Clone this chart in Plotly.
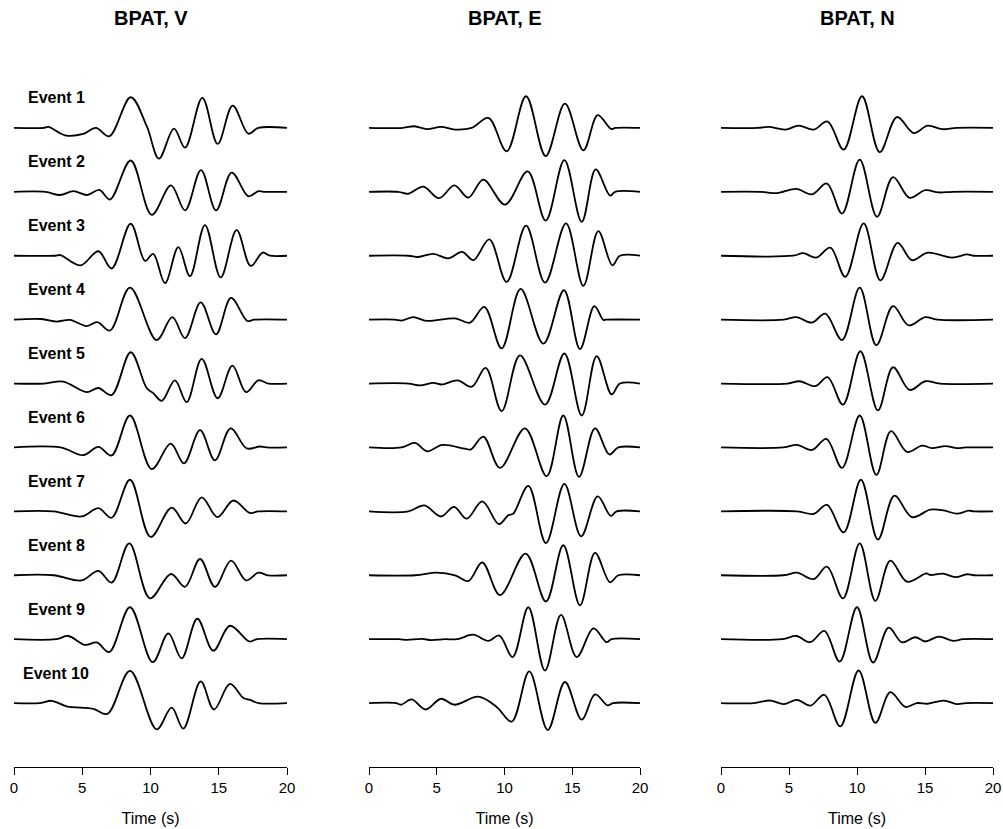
import plotly.graph_objects as go

# Station BPAT, three components, ten events.
# Each trace is given by its turning points: times (s) and amplitudes
# (in units of the vertical spacing between traces).
COMPONENTS = ["V", "E", "N"]
EVENTS = ["Event %d" % i for i in range(1, 11)]
X_TICKS = [0, 5, 10, 15, 20]

V_T = [
    [0, 2.15, 2.52, 3.74, 5.08, 6.0, 6.98, 8.55, 9.72, 10.62, 11.72, 12.53, 13.80, 14.92, 16.02, 17.17, 17.9, 20],
    [0, 2.3, 3.37, 4.35, 5.37, 6.25, 7.03, 8.55, 10.09, 11.5, 12.53, 13.70, 14.80, 15.95, 17.17, 17.9, 18.3, 20],
    [0, 3.0, 3.4, 4.88, 6.18, 7.15, 8.55, 9.6, 10.2, 11.06, 12.04, 12.89, 13.99, 15.14, 16.31, 17.34, 18.22, 18.75, 20],
    [0, 2.0, 3.12, 4.1, 5.32, 6.1, 7.03, 8.5, 10.45, 11.6, 12.53, 13.68, 14.80, 15.9, 17.09, 17.6, 20],
    [0, 2.2, 3.6, 5.32, 6.18, 7.15, 8.55, 9.72, 10.2, 10.82, 11.79, 12.65, 13.75, 14.92, 16.0, 17.0, 17.9, 18.63, 20],
    [0, 3.4, 5.08, 6.18, 7.15, 8.5, 10.09, 11.48, 12.45, 13.63, 14.72, 15.87, 17.05, 18.0, 18.5, 20],
    [0, 2.9, 4.96, 6.18, 7.15, 8.5, 10.01, 11.55, 12.58, 13.75, 14.9, 16.07, 17.29, 17.9, 20],
    [0, 2.9, 4.96, 6.18, 7.15, 8.45, 9.96, 11.5, 12.53, 13.63, 14.72, 15.9, 17.0, 17.9, 18.6, 20],
    [0, 3.1, 3.98, 5.2, 6.06, 6.98, 8.5, 10.16, 11.31, 12.28, 13.43, 14.6, 15.82, 17.24, 17.8, 20],
    [0, 1.9, 2.76, 3.86, 5.81, 6.84, 8.5, 10.45, 11.55, 12.4, 13.68, 14.65, 15.82, 16.8, 17.3, 17.9, 20],
]
V_A = [
    [0, 0, 0.016, -0.115, -0.094, 0.0, -0.13, 0.48, 0.03, -0.48, -0.01, -0.31, 0.47, -0.25, 0.35, -0.09, 0, 0],
    [0, 0, -0.05, 0.01, -0.05, 0.03, -0.12, 0.49, -0.36, 0.10, -0.29, 0.34, -0.29, 0.30, -0.07, 0.01, 0, 0],
    [0, 0, 0.01, -0.15, 0.07, -0.20, 0.50, -0.08, 0.03, -0.43, 0.135, -0.32, 0.48, -0.34, 0.40, -0.16, 0.05, 0, 0],
    [0, 0.01, -0.03, -0.005, -0.10, -0.04, -0.17, 0.50, -0.32, 0.04, -0.29, 0.27, -0.23, 0.34, -0.02, 0, 0],
    [0, 0, 0.03, -0.135, -0.07, -0.18, 0.49, -0.07, -0.15, -0.27, 0.05, -0.29, 0.385, -0.23, 0.28, -0.135, 0.05, 0, 0],
    [0, 0, -0.12, 0.01, -0.125, 0.50, -0.34, 0.06, -0.25, 0.27, -0.20, 0.30, -0.015, 0.015, 0, 0],
    [0, 0, -0.08, 0.05, -0.10, 0.495, -0.40, 0.06, -0.19, 0.22, -0.09, 0.17, -0.026, 0, 0],
    [0, 0, -0.08, 0.07, -0.115, 0.50, -0.36, 0.02, -0.18, 0.255, -0.18, 0.23, -0.08, 0.04, 0, 0],
    [0, 0, 0.05, -0.09, -0.05, -0.20, 0.50, -0.36, 0.09, -0.30, 0.32, -0.18, 0.21, -0.036, 0, 0],
    [0, 0, 0.036, -0.05, -0.09, -0.17, 0.505, -0.41, -0.07, -0.40, 0.34, -0.10, 0.30, 0.08, 0.05, 0, 0],
]

E_T = [
    [0, 2.5, 3.35, 4.26, 5.31, 6.35, 7.58, 8.81, 10.16, 11.59, 13.04, 14.46, 15.82, 16.88, 17.86, 18.2, 20],
    [0, 2.16, 2.9, 4.01, 5.17, 6.3, 7.33, 8.44, 10.04, 11.71, 13.04, 14.42, 15.70, 16.73, 17.79, 18.16, 20],
    [0, 2.9, 3.64, 4.75, 5.85, 6.89, 7.7, 8.88, 10.16, 11.59, 12.99, 14.54, 15.82, 16.92, 17.96, 18.52, 20],
    [0, 1.9, 2.4, 3.27, 4.26, 6.35, 7.45, 8.51, 9.79, 11.19, 12.87, 14.39, 15.57, 16.63, 17.29, 17.5, 20],
    [0, 2.9, 3.76, 4.75, 5.36, 6.54, 7.58, 8.61, 9.79, 11.14, 12.99, 14.42, 15.7, 16.8, 17.91, 18.52, 20],
    [0, 2.4, 3.39, 4.3, 5.41, 7.08, 7.53, 8.44, 9.67, 11.51, 13.11, 14.34, 15.5, 16.68, 17.74, 18.4, 20],
    [0, 2.9, 4.08, 5.31, 6.27, 7.21, 8.36, 9.59, 10.28, 10.65, 11.76, 13.06, 14.42, 15.65, 16.88, 17.84, 18.28, 20],
    [0, 3.4, 4.99, 6.35, 7.33, 8.36, 9.67, 11.56, 13.06, 14.34, 15.57, 16.68, 17.79, 18.4, 20],
    [0, 2.2, 2.8, 3.9, 4.6, 5.6, 6.5, 7.7, 8.81, 9.62, 10.6, 11.76, 12.99, 14.17, 15.33, 16.56, 17.54, 17.9, 20],
    [0, 2.0, 2.36, 3.15, 4.18, 5.31, 6.3, 8.07, 9.42, 10.53, 11.83, 13.19, 14.46, 15.7, 16.68, 17.61, 18.0, 20],
]
E_A = [
    [0, 0, 0.026, -0.02, 0.016, -0.026, 0, 0.156, -0.365, 0.495, -0.44, 0.38, -0.35, 0.20, -0.016, 0, 0],
    [0, 0, -0.03, 0.08, -0.10, 0.10, -0.09, 0.19, -0.20, 0.32, -0.45, 0.495, -0.47, 0.35, -0.06, 0, 0],
    [0, 0, -0.02, 0.03, -0.04, 0.06, -0.07, 0.255, -0.41, 0.47, -0.42, 0.505, -0.47, 0.385, -0.15, 0, 0],
    [0, 0, -0.015, 0.04, -0.02, 0.02, -0.047, 0.20, -0.45, 0.48, -0.375, 0.46, -0.46, 0.21, -0.005, 0, 0],
    [0, 0, -0.03, 0.01, -0.015, 0.05, -0.05, 0.245, -0.43, 0.44, -0.33, 0.47, -0.50, 0.43, -0.17, 0, 0],
    [0, 0, 0.07, -0.06, 0.04, -0.02, -0.03, 0.17, -0.32, 0.30, -0.45, 0.50, -0.46, 0.30, -0.11, 0, 0],
    [0, 0, 0.094, -0.08, 0.07, -0.115, 0.156, -0.20, -0.06, -0.035, 0.40, -0.495, 0.43, -0.39, 0.235, -0.07, 0, 0],
    [0, 0, 0.04, 0.0, -0.09, 0.20, -0.31, 0.34, -0.41, 0.47, -0.47, 0.35, -0.11, 0, 0],
    [0, 0, -0.01, 0.005, -0.015, 0.0, 0.0, 0.07, -0.026, 0.057, -0.28, 0.50, -0.49, 0.38, -0.28, 0.17, -0.047, 0, 0],
    [0, 0, -0.026, 0.057, -0.10, 0.068, -0.026, 0.10, -0.06, -0.29, 0.495, -0.42, 0.33, -0.26, 0.135, -0.036, 0, 0],
]

N_T = [
    [0, 2.7, 3.5, 4.73, 5.71, 6.81, 7.84, 9.02, 10.37, 11.67, 12.94, 14.17, 15.2, 16.25, 17.35, 20],
    [0, 2.9, 4.12, 5.54, 6.69, 7.79, 8.9, 10.2, 11.47, 12.65, 13.87, 15.02, 16.0, 17.0, 20],
    [0, 5.3, 6.03, 7.01, 8.04, 9.14, 10.49, 11.72, 12.99, 14.04, 15.2, 16.99, 18.1, 18.6, 20],
    [0, 4.6, 5.54, 6.69, 7.67, 8.9, 10.2, 11.42, 12.65, 13.8, 15.02, 15.9, 20],
    [0, 4.9, 5.78, 6.94, 7.84, 8.97, 10.25, 11.54, 12.65, 13.87, 15.02, 16.1, 20],
    [0, 4.6, 5.59, 6.69, 7.75, 8.9, 10.2, 11.42, 12.5, 13.68, 14.78, 15.5, 16.5, 17.35, 18.0, 20],
    [0, 5.6, 6.81, 7.79, 9.02, 10.29, 11.54, 12.75, 14.04, 15.39, 16.37, 17.35, 18.2, 18.6, 20],
    [0, 4.6, 5.59, 6.81, 7.79, 8.97, 10.2, 11.35, 12.45, 13.68, 15.1, 15.4, 16.32, 17.23, 18.1, 18.6, 20],
    [0, 4.5, 5.54, 6.57, 7.6, 8.73, 10.0, 11.18, 12.33, 13.31, 14.29, 15.02, 16.0, 17.1, 17.8, 20],
    [0, 2.4, 3.63, 4.61, 5.59, 6.57, 7.6, 8.77, 10.12, 11.35, 12.45, 13.55, 14.4, 15.2, 16.37, 17.35, 18.0, 20],
]
N_A = [
    [0, 0, 0.016, -0.026, 0.036, -0.026, 0.10, -0.34, 0.495, -0.38, 0.17, -0.08, 0.036, -0.02, 0, 0],
    [0, 0, -0.02, 0.047, -0.04, 0.13, -0.34, 0.505, -0.39, 0.23, -0.094, 0.026, -0.01, 0, 0],
    [0, 0, 0.04, -0.03, 0.125, -0.33, 0.505, -0.385, 0.20, -0.07, 0.047, -0.03, 0.02, 0, 0],
    [0, 0, 0.04, -0.047, 0.094, -0.32, 0.50, -0.40, 0.21, -0.09, 0.04, 0, 0],
    [0, 0, 0.036, -0.04, 0.10, -0.33, 0.505, -0.42, 0.255, -0.10, 0.036, 0, 0],
    [0, 0, 0.04, -0.04, 0.135, -0.32, 0.50, -0.43, 0.255, -0.07, 0.03, -0.01, 0.02, -0.01, 0, 0],
    [0, 0, -0.04, 0.10, -0.33, 0.495, -0.44, 0.245, -0.09, 0.026, 0.015, -0.036, 0.01, 0, 0],
    [0, 0, 0.04, -0.06, 0.135, -0.36, 0.50, -0.40, 0.23, -0.10, 0.03, 0.005, 0.026, -0.03, 0.016, 0, 0],
    [0, 0, 0.05, -0.047, 0.13, -0.35, 0.50, -0.365, 0.18, -0.05, 0.03, -0.036, 0.04, -0.026, 0, 0],
    [0, 0, 0.04, -0.016, 0.05, -0.04, 0.13, -0.365, 0.51, -0.31, 0.17, -0.06, 0.0, -0.01, 0.04, -0.016, 0, 0],
]

DATA = {"V": (V_T, V_A), "E": (E_T, E_A), "N": (N_T, N_A)}

W, H = 1003, 829
FONT = "Liberation Sans, Arial, Helvetica, sans-serif"
# panel edges in pixels (left, right)
PANELS = [(14, 287), (369, 640), (721, 993)]

fig = go.Figure()
layout = dict(
    width=W, height=H,
    margin=dict(l=0, r=0, t=64, b=62, autoexpand=False),
    paper_bgcolor="white", plot_bgcolor="white",
    showlegend=False,
    font=dict(family=FONT, color="black"),
)

annotations = []
for k, comp in enumerate(COMPONENTS):
    xa = "xaxis" if k == 0 else "xaxis%d" % (k + 1)
    ya = "yaxis" if k == 0 else "yaxis%d" % (k + 1)
    xref = "x" if k == 0 else "x%d" % (k + 1)
    yref = "y" if k == 0 else "y%d" % (k + 1)
    times, amps = DATA[comp]
    for i in range(len(EVENTS)):
        fig.add_trace(go.Scatter(
            x=times[i], y=[a - i for a in amps[i]],
            mode="lines", xaxis=xref, yaxis=yref,
            line=dict(color="black", width=1.8, shape="spline", smoothing=1.0),
            hoverinfo="skip",
        ))
    l, r = PANELS[k]
    layout[xa] = dict(
        domain=[l / W, r / W], range=[0, 20],
        tickvals=X_TICKS, ticks="outside", ticklen=7, tickwidth=1,
        tickcolor="black", showline=True, linecolor="black", linewidth=1,
        showgrid=False, zeroline=False, automargin=False,
        tickfont=dict(size=15, family=FONT),
        title=dict(text="Time (s)", font=dict(size=16, family=FONT), standoff=17),
        anchor=yref,
    )
    layout[ya] = dict(
        domain=[0, 1], range=[-10, 1], visible=False,
        anchor=xref, fixedrange=True, automargin=False,
    )
    annotations.append(dict(
        text="<b>BPAT, %s</b>" % comp, xref=xref + " domain", yref="paper",
        x=0.5, y=1 + 46 / 703, xanchor="center", yanchor="middle",
        showarrow=False, font=dict(size=20, family=FONT),
    ))

for i, name in enumerate(EVENTS):
    annotations.append(dict(
        text="<b>%s</b>" % name, xref="x", yref="y",
        x=3.08, y=-i + 0.47, xanchor="center", yanchor="middle",
        showarrow=False, font=dict(size=16, family=FONT),
    ))

layout["annotations"] = annotations
fig.update_layout(**layout)
fig.write_html("out.html")
